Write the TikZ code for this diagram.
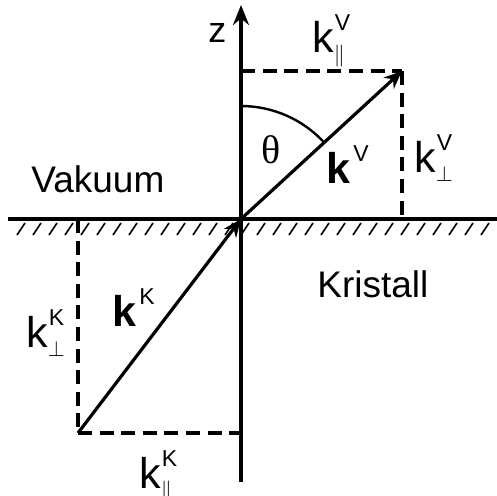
\documentclass[tikz,border=0pt]{standalone}
\usepackage{fontspec}
\setmainfont{Liberation Sans}
\newfontfamily\grserif{Liberation Serif}
\usetikzlibrary{arrows.meta}
\newcommand{\supsub}[3]{#1\makebox[0pt][l]{\hspace{0.5pt}\raisebox{11pt}{\fontsize{11.5}{11.5}\selectfont\mdseries #2}}\raisebox{-4.5pt}{\fontsize{11}{11}\selectfont $#3$}}
\newcommand{\supk}[2]{#1\hspace{1.5pt}\raisebox{11pt}{\fontsize{11.5}{11.5}\selectfont\mdseries #2}}
\begin{document}
\begin{tikzpicture}[x=0.5pt,y=-0.5pt,
  mainline/.style={line width=1.6pt},
  dashline/.style={line width=1.6pt, dash pattern=on 7pt off 3.8pt},
  hatchline/.style={line width=0.8pt},
  vec/.style={line width=1.6pt,-{Stealth[length=9pt,width=7.5pt]}},
  lab/.style={anchor=base west, inner sep=0pt, font=\fontsize{21.5}{21.5}\selectfont},
  txt/.style={anchor=base west, inner sep=0pt, font=\fontsize{18.5}{18.5}\selectfont}]
\useasboundingbox (0,0) rectangle (497,495);
% key points
\coordinate (O) at (241,219);
\coordinate (zbot) at (241,482);
\coordinate (ztop) at (241,5);
\coordinate (sl) at (8,219);
\coordinate (sr) at (497,219);
\coordinate (tipV) at (402,71);
\coordinate (cV) at (241,71);
\coordinate (bV) at (402,219);
\coordinate (startK) at (78,433);
\coordinate (cK) at (241,433);
\coordinate (tK) at (78,219);
% surface and hatching
\draw[mainline] (sl) -- (sr);
\foreach \i in {0,...,29}
  \draw[hatchline] ({17+16*\i},235) -- ({25+16*\i},223);
% z axis
\draw[line width=1.6pt,-{Stealth[length=10pt,width=8pt]}] (zbot) -- (ztop);
% dashed components
\draw[dashline] (cV) -- (tipV);
\draw[dashline] (tipV) -- (bV);
\draw[dashline] (tK) -- (startK);
\draw[dashline] (startK) -- (cK);
% vectors
\draw[vec] (O) -- (tipV);
\draw[vec] (startK) -- (O);
% angle arc
\draw[line width=1.2pt] ([shift={(-90:113)}]O) arc[start angle=-90, end angle=-42.6, radius=113];
% labels
\node[txt, font=\fontsize{18}{18}\selectfont] (z) at (208,42) {z};
\node[txt] (vak) at (31,192) {Vakuum};
\node[txt] (kri) at (317,297) {Kristall};
\node[anchor=base west, inner sep=0pt, font=\fontsize{20}{20}\grserif] (th) at (261,163) {θ};
\node[lab] (kparV) at (312,52) {\supsub{k}{V}{\parallel}};
\node[lab] (kperpV) at (414,172) {\supsub{k}{V}{\perp}};
\node[lab, font=\fontsize{21.5}{21.5}\selectfont\bfseries] (kV) at (326,183) {\supk{k}{V}};
\node[lab, font=\fontsize{21.5}{21.5}\selectfont\bfseries] (kK) at (112,326) {\supk{k}{K}};
\node[lab] (kperpK) at (26,347) {\supsub{k}{K}{\perp}};
\node[lab] (kparK) at (139,488) {\supsub{k}{K}{\parallel}};
\end{tikzpicture}
\end{document}
